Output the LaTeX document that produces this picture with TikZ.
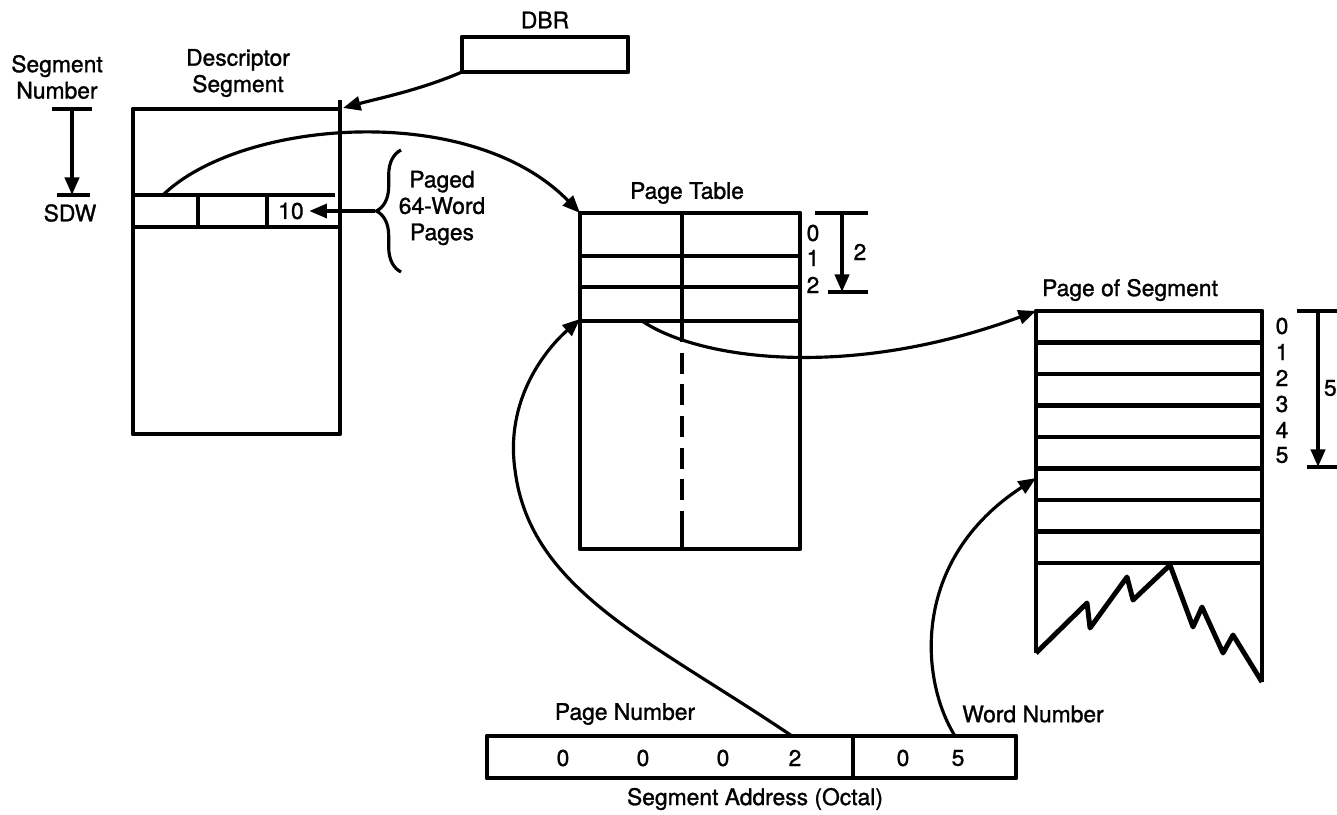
\documentclass[tikz,border=0pt]{standalone}
\usepackage{fontspec}
\setmainfont{TeX Gyre Heros}[FakeBold=1.2]
\usetikzlibrary{arrows.meta,decorations.pathreplacing}

\begin{document}
\begin{tikzpicture}[x=0.02cm,y=-0.02cm,>={Triangle[length=10pt,width=8pt]},
  every node/.style={font=\fontsize{13}{15}\selectfont,inner sep=0pt},
  box/.style={line width=2.8pt,line join=round},
  link/.style={line width=1.8pt,->},
  tick/.style={line width=2.2pt}]
  \useasboundingbox (0,0) rectangle (1337,814);

  % DBR
  \node (dbrlbl) at (545,20) {DBR};
  \draw[box] (462,37) rectangle (628,72);
  \coordinate (dbr) at (462,72);

  % descriptor segment
  \node[align=center] (desclbl) at (238,73) {Descriptor\\Segment};
  \node[align=center] (segnum) at (57,77) {Segment\\Number};
  \draw[box] (133,109) rectangle (340,434);
  \draw[box] (340,100) -- (340,109);
  \coordinate (dstop) at (343,108);
  \draw[box] (133,195) -- (335,195);
  \draw[box] (133,227) -- (340,227);
  \draw[box] (198,195) -- (198,227);
  \draw[box] (267,195) -- (267,227);
  \node (ten) at (291,211) {10};
  \node (sdwlbl) at (70,213) {SDW};
  \coordinate (sdw) at (163,195);

  % segment number arrow
  \draw[tick] (52,109) -- (92,109);
  \draw[tick] (57,195) -- (90,195);
  \draw[line width=2.2pt,->] (72,109) -- (72,195);

  % brace and note
  \draw[line width=1.8pt,decorate,decoration={brace,amplitude=14pt,aspect=0.5}]
    (401,272) -- (401,150);
  \coordinate (bracetip) at (375,211);
  \node[align=center] (paged) at (442,208) {Paged\\64-Word\\Pages};
  \draw[link] (bracetip) -- ([xshift=3pt]ten.east);

  % page table
  \node (ptlbl) at (687,193) {Page Table};
  \draw[box] (580,213) rectangle (800,549);
  \foreach \y in {256,287,321}
    \draw[box] (580,\y) -- (800,\y);
  \draw[box] (682,213) -- (682,321);
  \draw[box,dash pattern=on 12pt off 6pt] (682,321) -- (682,530);
  \draw[box] (682,530) -- (682,549);
  \foreach \n/\y in {0/233,1/258,2/285}
    \node (pt\n) at (813,\y) {\n};
  \draw[tick] (815,213) -- (868,213);
  \draw[tick] (828,292) -- (868,292);
  \draw[line width=2.2pt,->] (842,213) -- (842,292);
  \node (ptcount) at (860,252) {2};
  \coordinate (pttop) at (580,213);
  \coordinate (ptrow) at (642,321);
  \coordinate (ptin) at (580,319);

  % page of segment
  \node (pslbl) at (1130,290) {Page of Segment};
  \draw[box] (1036,653) -- (1036,311) -- (1262,311) -- (1262,682);
  \foreach \k in {1,...,8}
    \draw[box] (1036,{311+31.5*\k}) -- (1262,{311+31.5*\k});
  \draw[box] (1036,653) -- (1087,603) -- (1090,628) -- (1127,577) -- (1133,600)
    -- (1170,565) -- (1193,627) -- (1202,607) -- (1223,653) -- (1233,635) -- (1262,682);
  \foreach \n/\y in {0/326,1/352,2/378,3/404,4/430,5/455}
    \node (ps\n) at (1282,\y) {\n};
  \draw[tick] (1297,311) -- (1337,311);
  \draw[tick] (1307,467) -- (1337,467);
  \draw[line width=2.2pt,->] (1318,311) -- (1318,467);
  \node[anchor=east] (pscount) at (1337,388) {5};
  \coordinate (pstop) at (1036,311);
  \coordinate (psin) at (1036,478);

  % segment address
  \node (pnlbl) at (625,714) {Page Number};
  \node (wnlbl) at (1033,714) {Word Number};
  \draw[box] (487,736) rectangle (1016,778);
  \draw[box] (853,736) -- (853,778);
  \foreach \x/\d in {563/0,643/0,723/0,795/2,903/0,958/5}
    \node (d\x) at (\x,758) {\d};
  \node (addrlbl) at (755,799) {Segment Address (Octal)};
  \coordinate (pn) at (792,736);
  \coordinate (wn) at (955,736);

  % connectors
  \draw[link] (dbr) .. controls (420,90) and (380,98) .. (dstop);
  \draw[link] (sdw) .. controls (240,120) and (470,100) .. (pttop);
  \draw[link] (ptrow) .. controls (700,360) and (850,380) .. (pstop);
  \draw[link] (pn) .. controls (650,640) and (530,590) .. (515,470)
    .. controls (505,400) and (545,350) .. (ptin);
  \draw[link] (wn) .. controls (920,680) and (910,560) .. (psin);
\end{tikzpicture}
\end{document}
